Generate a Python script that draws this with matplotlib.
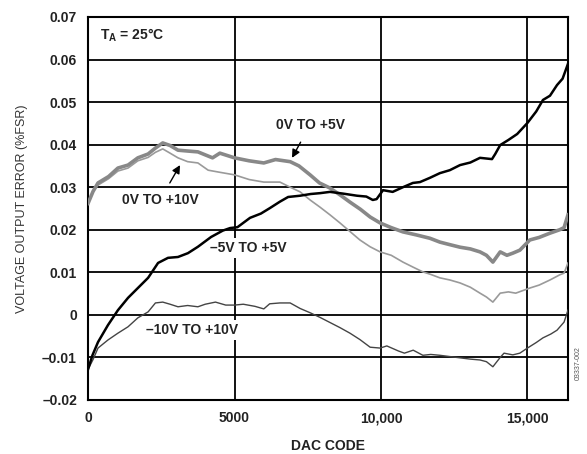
import matplotlib.pyplot as plt

plt.rcParams['font.family'] = ['Liberation Sans', 'DejaVu Sans']

# -5V TO +5V (black)
bip5_x = [0, 150, 340, 680, 1020, 1365, 1700, 2050, 2390, 2730, 3070, 3410, 3750, 4200, 4600,
          4850, 5100, 5530, 5900, 6210, 6550, 6830, 7240, 7600, 7920, 8260, 8700, 9180, 9500,
          9720, 9850, 10070, 10400, 10750, 11090, 11330, 11670, 12010, 12350, 12700, 13050,
          13380, 13790, 13900, 14070, 14350, 14650, 15000, 15300, 15530, 15770, 16010, 16200, 16384]
bip5_y = [-0.0128, -0.0095, -0.0064, -0.0024, 0.0011, 0.0040, 0.0063, 0.0087, 0.0122, 0.0134,
          0.0136, 0.0145, 0.0160, 0.0183, 0.0198, 0.0204, 0.0206, 0.0228, 0.0238, 0.0251, 0.0266,
          0.0277, 0.0280, 0.0284, 0.0286, 0.0289, 0.0285, 0.0280, 0.0278, 0.0270, 0.0272, 0.0293,
          0.0289, 0.0300, 0.0310, 0.0312, 0.0322, 0.0333, 0.0340, 0.0352, 0.0358, 0.0369, 0.0366,
          0.0378, 0.0399, 0.0411, 0.0425, 0.0451, 0.0478, 0.0505, 0.0515, 0.0540, 0.0555, 0.0590]

# 0V TO +5V (thick grey)
uni5_x = [0, 170, 340, 700, 1020, 1365, 1700, 2050, 2300, 2550, 2800, 3070, 3400, 3750, 4250,
          4500, 5000, 5500, 6000, 6400, 6900, 7200, 7580, 7900, 8260, 8600, 8940, 9300, 9630,
          9970, 10350, 10750, 11200, 11670, 12010, 12350, 12700, 13050, 13380, 13600, 13820,
          14070, 14300, 14500, 14740, 15080, 15400, 15770, 16100, 16250, 16384]
uni5_y = [0.0262, 0.0290, 0.0310, 0.0325, 0.0345, 0.0352, 0.0369, 0.0378, 0.0392, 0.0404,
          0.0398, 0.0387, 0.0385, 0.0383, 0.0369, 0.0380, 0.0369, 0.0362, 0.0357, 0.0365, 0.0360,
          0.0350, 0.0329, 0.0310, 0.0298, 0.0282, 0.0265, 0.0248, 0.0230, 0.0216, 0.0205, 0.0195,
          0.0188, 0.0180, 0.0171, 0.0165, 0.0159, 0.0155, 0.0148, 0.0140, 0.0124, 0.0148, 0.0140,
          0.0145, 0.0152, 0.0176, 0.0182, 0.0192, 0.0200, 0.0205, 0.0235]

# 0V TO +10V (thin grey)
uni10_x = [0, 170, 340, 700, 1020, 1365, 1700, 2050, 2300, 2550, 2800, 3070, 3400, 3750, 4100,
           4500, 5000, 5500, 6000, 6550, 6900, 7240, 7580, 7920, 8260, 8600, 8940, 9280, 9630,
           9970, 10350, 10750, 11100, 11430, 11700, 12010, 12350, 12700, 13050, 13380, 13600,
           13820, 14070, 14350, 14600, 15080, 15400, 15770, 16100, 16250, 16384]
uni10_y = [0.0262, 0.0290, 0.0305, 0.0320, 0.0338, 0.0345, 0.0362, 0.0370, 0.0382, 0.0390,
           0.0380, 0.0369, 0.0360, 0.0357, 0.0340, 0.0335, 0.0329, 0.0318, 0.0312, 0.0312, 0.0300,
           0.0289, 0.0270, 0.0253, 0.0235, 0.0216, 0.0196, 0.0176, 0.0160, 0.0148, 0.0140, 0.0124,
           0.0112, 0.0101, 0.0095, 0.0087, 0.0082, 0.0075, 0.0065, 0.0051, 0.0042, 0.0030, 0.0051,
           0.0054, 0.0051, 0.0063, 0.0070, 0.0082, 0.0094, 0.0098, 0.0122]

# -10V TO +10V (thin dark)
bip10_x = [0, 170, 340, 680, 1020, 1365, 1700, 2050, 2300, 2550, 2800, 3070, 3400, 3750, 4000,
           4350, 4700, 5000, 5300, 5700, 6000, 6200, 6550, 6900, 7240, 7580, 7920, 8260, 8600,
           8940, 9280, 9630, 9970, 10200, 10600, 10800, 11100, 11430, 11700, 12010, 12350, 12700,
           13050, 13380, 13600, 13820, 14070, 14200, 14500, 14740, 15000, 15300, 15530, 15800,
           16010, 16250, 16384]
bip10_y = [-0.0128, -0.0105, -0.0078, -0.0059, -0.0043, -0.0028, -0.0007, 0.0007, 0.0028,
           0.0030, 0.0025, 0.0019, 0.0022, 0.0019, 0.0025, 0.0030, 0.0023, 0.0023, 0.0025, 0.0020,
           0.0014, 0.0026, 0.0028, 0.0028, 0.0015, 0.0005, -0.0006, -0.0018, -0.0030, -0.0043,
           -0.0058, -0.0076, -0.0078, -0.0073, -0.0085, -0.0090, -0.0083, -0.0095, -0.0093,
           -0.0095, -0.0098, -0.0101, -0.0104, -0.0106, -0.0110, -0.0122, -0.0100, -0.0090,
           -0.0094, -0.0090, -0.0078, -0.0065, -0.0054, -0.0045, -0.0036, -0.0017, 0.0011]

x_ticks = [0, 5000, 10000, 15000]
x_labels = ['0', '5000', '10,000', '15,000']
y_ticks = [-0.02, -0.01, 0, 0.01, 0.02, 0.03, 0.04, 0.05, 0.06, 0.07]
y_labels = ['\u20130.02', '\u20130.01', '0', '0.01', '0.02', '0.03', '0.04', '0.05', '0.06', '0.07']

fig = plt.figure(figsize=(5.87, 4.54), dpi=100)
ax = fig.add_axes([0.15, 0.119, 0.8176, 0.8436])

ax.plot(uni10_x, uni10_y, color='#9a9a9a', lw=1.2, zorder=4)
ax.plot(uni5_x, uni5_y, color='#888888', lw=2.6, zorder=4)
ax.plot(bip10_x, bip10_y, color='#444444', lw=1.0, zorder=4)
ax.plot(bip5_x, bip5_y, color='black', lw=1.8, zorder=5)

ax.set_xlim(0, 16384)
ax.set_ylim(-0.02, 0.07)
ax.set_xticks(x_ticks)
ax.set_xticklabels(x_labels)
ax.set_yticks(y_ticks)
ax.set_yticklabels(y_labels)
ax.tick_params(length=0, pad=8, labelsize=10)
for lab in ax.get_xticklabels() + ax.get_yticklabels():
    lab.set_fontweight('bold')
    lab.set_color('#222222')

ax.grid(True, color='black', lw=1.3)
ax.set_axisbelow(True)
for s in ax.spines.values():
    s.set_linewidth(1.5)

ax.set_xlabel('DAC CODE', fontsize=10, fontweight='bold', color='#222222', labelpad=10)
ax.set_ylabel('VOLTAGE OUTPUT ERROR (%FSR)', fontsize=9, color='#333333', labelpad=10)

lbl = dict(fontsize=10, fontweight='bold', color='#222222', ha='center', va='center', zorder=3,
           bbox=dict(facecolor='white', edgecolor='none', pad=2))

ax.text(410, 0.0658, 'T$_\\mathregular{A}$ = 25°C', fontsize=10, fontweight='bold',
        color='#222222', ha='left', va='center',
        bbox=dict(facecolor='white', edgecolor='none', pad=2))
ax.annotate('0V TO +5V', xy=(6963, 0.0369), xytext=(7578, 0.0446),
            arrowprops=dict(arrowstyle='-|>', color='black', lw=1, shrinkA=6, shrinkB=0,
                            mutation_scale=12), **lbl)
ax.annotate('0V TO +10V', xy=(3140, 0.0352), xytext=(2458, 0.0270),
            arrowprops=dict(arrowstyle='-|>', color='black', lw=1, shrinkA=6, shrinkB=0,
                            mutation_scale=12), **lbl)
ax.text(5461, 0.0157, '\u20135V TO +5V', **lbl)
ax.text(3550, -0.0036, '\u201310V TO +10V', **lbl)

fig.text(0.985, 0.2, '03337-002', rotation=90, fontsize=5, color='#555555',
         ha='center', va='center')

fig.savefig('out.png', dpi=100)
